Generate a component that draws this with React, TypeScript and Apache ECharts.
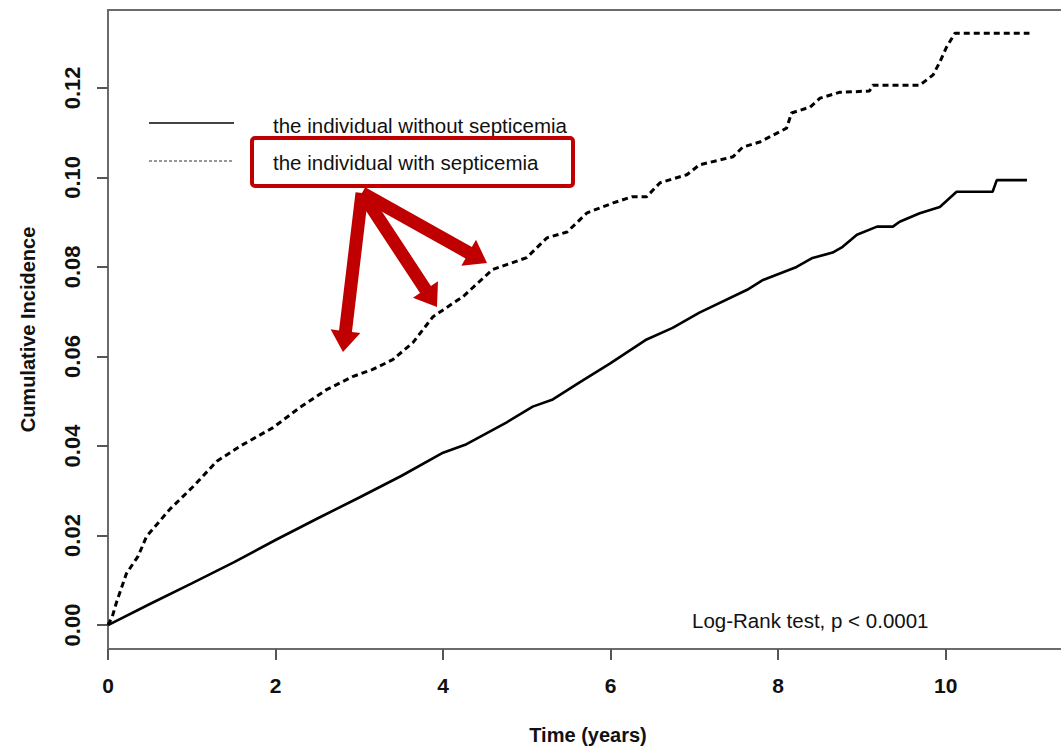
import React, { useEffect, useRef } from "react";
import * as echarts from "echarts";

// ---- Data ----
const withoutTime = [0, 0.5, 1, 1.5, 2, 2.5, 3, 3.5, 4, 4.28, 4.76, 5.07, 5.31, 5.63, 6.0, 6.43, 6.74, 7.06, 7.63, 7.82, 8.22, 8.41, 8.65, 8.77, 8.94, 9.18, 9.37, 9.45, 9.69, 9.93, 10.13, 10.56, 10.61, 10.97];
const withoutValue = [0, 0.0047, 0.0093, 0.014, 0.019, 0.0238, 0.0285, 0.0333, 0.0385, 0.0404, 0.0453, 0.0488, 0.0504, 0.0542, 0.0585, 0.0638, 0.0664, 0.0698, 0.0749, 0.0771, 0.08, 0.082, 0.0832, 0.0845, 0.0872, 0.089, 0.089, 0.0901, 0.092, 0.0934, 0.0968, 0.0968, 0.0994, 0.0994];

const withTime = [0, 0.05, 0.1, 0.22, 0.36, 0.46, 0.74, 1.02, 1.3, 1.58, 1.97, 2.29, 2.61, 2.92, 3.16, 3.4, 3.64, 3.88, 4.24, 4.59, 5.0, 5.24, 5.48, 5.72, 6.03, 6.26, 6.43, 6.59, 6.91, 7.06, 7.46, 7.58, 7.78, 8.1, 8.16, 8.38, 8.5, 8.73, 9.09, 9.13, 9.69, 9.85, 9.93, 10.01, 10.11, 11.0];
const withValue = [0, 0.0018, 0.005, 0.0115, 0.0154, 0.0198, 0.0259, 0.031, 0.0366, 0.04, 0.0441, 0.0486, 0.0526, 0.0555, 0.0571, 0.0593, 0.0631, 0.0689, 0.0734, 0.0794, 0.0821, 0.0865, 0.0878, 0.0921, 0.0943, 0.0957, 0.0957, 0.0988, 0.1006, 0.1028, 0.1046, 0.1068, 0.1079, 0.111, 0.1144, 0.1157, 0.1177, 0.119, 0.1193, 0.1206, 0.1206, 0.1229, 0.1258, 0.1291, 0.1322, 0.1322];

const xTicks = [0, 2, 4, 6, 8, 10];
const yTicks = [0, 0.02, 0.04, 0.06, 0.08, 0.1, 0.12];

const seriesNames = ["the individual without septicemia", "the individual with septicemia"];
const annotation = "Log-Rank test, p < 0.0001";
const xTitle = "Time (years)";
const yTitle = "Cumulative Incidence";

const RED = "#c00000";
const AXIS = "#6b6b6b";
const FONT = "'Liberation Sans', Arial, Helvetica, sans-serif";

function arrowPoly(x0: number, y0: number, x1: number, y1: number, shaftW = 13, headW = 30, headL = 21) {
  const dx = x1 - x0, dy = y1 - y0;
  const len = Math.sqrt(dx * dx + dy * dy);
  const ux = dx / len, uy = dy / len;
  const nx = -uy, ny = ux;
  const bx = x1 - ux * headL, by = y1 - uy * headL;
  const s = shaftW / 2, h = headW / 2;
  return [
    [x0 + nx * s, y0 + ny * s],
    [bx + nx * s, by + ny * s],
    [bx + nx * h, by + ny * h],
    [x1, y1],
    [bx - nx * h, by - ny * h],
    [bx - nx * s, by - ny * s],
    [x0 - nx * s, y0 - ny * s],
  ];
}

export default function App() {
  const ref = useRef<HTMLDivElement>(null);
  useEffect(() => {
    if (!ref.current) return;
    const chart = echarts.init(ref.current, null, { renderer: "svg" });
    const apex = [362, 193];
    const tips = [[343, 352], [437, 307], [487, 263]];
    const arrows = tips.map((t) => ({
      type: "polygon",
      shape: { points: arrowPoly(apex[0], apex[1], t[0], t[1]) },
      style: { fill: RED },
      z: 100,
    }));
    chart.setOption({
      animation: false,
      backgroundColor: "#ffffff",
      grid: {
        left: 108,
        top: 10,
        right: 7,
        bottom: 100,
        show: true,
        borderColor: AXIS,
        borderWidth: 2,
      },
      xAxis: {
        type: "value",
        min: 0,
        max: 11.46,
        name: xTitle,
        nameLocation: "middle",
        nameGap: 76,
        nameTextStyle: { fontFamily: FONT, fontWeight: "bold", fontSize: 20, color: "#111" },
        splitLine: { show: false },
        axisLine: { show: true, onZero: false, lineStyle: { color: AXIS, width: 2 } },
        axisTick: { show: true, length: 11, customValues: xTicks, lineStyle: { color: "#555", width: 2 } },
        axisLabel: {
          customValues: xTicks,
          margin: 26,
          fontFamily: FONT,
          fontWeight: "bold",
          fontSize: 21,
          color: "#111",
          formatter: (v: number) => String(v),
        },
      },
      yAxis: {
        type: "value",
        min: -0.00535,
        max: 0.1374,
        name: yTitle,
        nameLocation: "middle",
        nameGap: 70,
        nameTextStyle: { fontFamily: FONT, fontWeight: "bold", fontSize: 20, color: "#111" },
        splitLine: { show: false },
        axisLine: { show: true, onZero: false, lineStyle: { color: AXIS, width: 2 } },
        axisTick: { show: true, length: 11, customValues: yTicks, lineStyle: { color: "#555", width: 2 } },
        axisLabel: {
          customValues: yTicks,
          rotate: 90,
          margin: 25,
          fontFamily: FONT,
          fontWeight: "bold",
          fontSize: 22,
          color: "#111",
          formatter: (v: number) => v.toFixed(2),
        },
      },
      series: [
        {
          name: seriesNames[0],
          type: "line",
          showSymbol: false,
          data: withoutTime.map((t, i) => [t, withoutValue[i]]),
          lineStyle: { color: "#000", width: 2.6 },
          z: 5,
        },
        {
          name: seriesNames[1],
          type: "line",
          showSymbol: false,
          data: withTime.map((t, i) => [t, withValue[i]]),
          lineStyle: { color: "#000", width: 3, type: [6, 4] },
          z: 5,
        },
      ],
      graphic: [
        { type: "line", shape: { x1: 149, y1: 123, x2: 234, y2: 123 }, style: { stroke: "#444", lineWidth: 2 } },
        { type: "line", shape: { x1: 149, y1: 161, x2: 233, y2: 161 }, style: { stroke: "#777", lineWidth: 1.6, lineDash: [3, 2] } },
        { type: "text", x: 273, y: 125, style: { text: seriesNames[0], font: `20.5px ${FONT}`, fill: "#111", textVerticalAlign: "middle" } },
        { type: "text", x: 273, y: 162, style: { text: seriesNames[1], font: `20.5px ${FONT}`, fill: "#111", textVerticalAlign: "middle" } },
        { type: "rect", shape: { x: 252, y: 138, width: 321, height: 48, r: 3 }, style: { fill: "none", stroke: RED, lineWidth: 4 }, z: 90 },
        { type: "text", x: 692, y: 620, style: { text: annotation, font: `20.5px ${FONT}`, fill: "#111", textVerticalAlign: "middle" } },
        ...arrows,
      ],
    });
    return () => chart.dispose();
  }, []);
  return (
    <div style={{ position: "absolute", left: 0, top: 0, width: 1061, height: 750, overflow: "hidden", background: "#fff" }}>
      <div ref={ref} style={{ width: 1075, height: 750 }} />
    </div>
  );
}
